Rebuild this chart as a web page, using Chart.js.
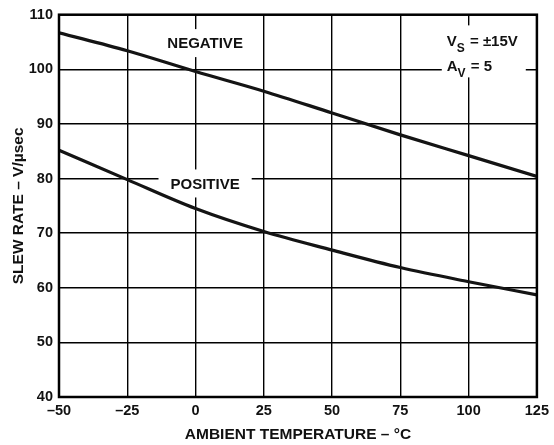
<!DOCTYPE html>
<html>
<head>
<meta charset="utf-8">
<script src="https://cdn.jsdelivr.net/npm/chart.js@4/dist/chart.umd.min.js"></script>
<style>
  html, body { margin: 0; padding: 0; background: #fff; }
  #wrap { width: 554px; height: 445px; position: relative; }
</style>
</head>
<body>
<div id="wrap"><canvas id="c" width="554" height="445"></canvas></div>
<script>
// ---- data ----
const temperatures = [-50, -25, 0, 25, 50, 75, 100, 125];
const negativeSlew = [106.7, 103.4, 99.6, 96.0, 92.0, 88.0, 84.2, 80.4];
const positiveSlew = [85.2, 79.8, 74.5, 70.3, 66.9, 63.7, 61.1, 58.7];
const xTickLabels = ['\u201350', '\u201325', '0', '25', '50', '75', '100', '125'];
const yTickLabels = ['40', '50', '60', '70', '80', '90', '100', '110'];
const curveLabels = ['NEGATIVE', 'POSITIVE'];
const curveLabelAt = [[3.5, 104.8], [3.5, 79.1]];
const conditionsAt = [92.0, 104.2];

const FONT = '"Liberation Sans", Arial, Helvetica, sans-serif';

const annotations = {
  id: 'annotations',
  beforeDatasetsDraw(chart) {
    const ctx = chart.ctx;
    const xs = chart.scales.x, ys = chart.scales.y;
    ctx.save();
    ctx.font = 'bold 15px ' + FONT;
    ctx.textAlign = 'center';
    ctx.textBaseline = 'middle';
    curveLabels.forEach((t, i) => {
      const px = xs.getPixelForValue(curveLabelAt[i][0]);
      const py = ys.getPixelForValue(curveLabelAt[i][1]);
      const w = ctx.measureText(t).width;
      ctx.fillStyle = '#fff';
      ctx.fillRect(px - w / 2 - 12, py - 14, w + 24, 28);
      ctx.fillStyle = '#111';
      ctx.fillText(t, px, py + 1);
    });
    // conditions block
    const cx = xs.getPixelForValue(conditionsAt[0]);
    const cy = ys.getPixelForValue(conditionsAt[1]);
    ctx.fillStyle = '#fff';
    ctx.fillRect(cx - 5, cy - 21, 84, 52);
    ctx.fillStyle = '#111';
    ctx.textAlign = 'left';
    ctx.textBaseline = 'alphabetic';
    const drawSub = (main, sub, rest, x, y) => {
      ctx.font = 'bold 15px ' + FONT;
      ctx.fillText(main, x, y);
      let w = ctx.measureText(main).width;
      ctx.font = 'bold 12px ' + FONT;
      ctx.fillText(sub, x + w, y + 6);
      w += ctx.measureText(sub).width + 1;
      ctx.font = 'bold 15px ' + FONT;
      ctx.fillText(rest, x + w, y);
    };
    drawSub('V', 'S', ' = \u00b115V', cx, cy);
    drawSub('A', 'V', ' = 5', cx, cy + 25);
    ctx.restore();
  },
  afterDraw(chart) {
    const ctx = chart.ctx;
    const a = chart.chartArea;
    ctx.save();
    ctx.strokeStyle = '#000';
    ctx.lineWidth = 2.5;
    ctx.strokeRect(a.left, a.top, a.right - a.left, a.bottom - a.top);
    ctx.restore();
  }
};

new Chart(document.getElementById('c'), {
  type: 'line',
  data: {
    datasets: [
      {
        label: 'NEGATIVE',
        data: temperatures.map((t, i) => ({ x: t, y: negativeSlew[i] })),
        borderColor: '#141414', borderWidth: 3.2, pointRadius: 0,
        cubicInterpolationMode: 'monotone', fill: false
      },
      {
        label: 'POSITIVE',
        data: temperatures.map((t, i) => ({ x: t, y: positiveSlew[i] })),
        borderColor: '#141414', borderWidth: 3.2, pointRadius: 0,
        cubicInterpolationMode: 'monotone', fill: false
      }
    ]
  },
  options: {
    responsive: false,
    animation: false,
    devicePixelRatio: 1,
    layout: { padding: { left: 0, right: 16, top: 13, bottom: 0 } },
    plugins: { legend: { display: false }, tooltip: { enabled: false } },
    scales: {
      x: {
        type: 'linear', min: -50, max: 125,
        afterFit: s => { s.height = 48; },
        grid: { color: '#000', lineWidth: 1.4, drawTicks: false },
        border: { display: false },
        ticks: {
          stepSize: 25, padding: 5, color: '#111',
          font: { family: FONT, size: 14.5, weight: 'bold' },
          callback: (v) => xTickLabels[temperatures.indexOf(v)]
        },
        title: {
          display: true, text: 'AMBIENT TEMPERATURE \u2013 \u00b0C', color: '#111',
          font: { family: FONT, size: 15.5, weight: 'bold' },
          padding: { top: 0, bottom: 1 }
        }
      },
      y: {
        type: 'linear', min: 40, max: 110,
        afterFit: s => { s.width = 59; },
        grid: { color: '#000', lineWidth: 1.4, drawTicks: false },
        border: { display: false },
        ticks: {
          stepSize: 10, padding: 6, color: '#111',
          font: { family: FONT, size: 14.5, weight: 'bold' },
          callback: (v) => yTickLabels[(v - 40) / 10]
        },
        title: {
          display: true, text: 'SLEW RATE \u2013 V/\u00b5sec', color: '#111',
          font: { family: FONT, size: 15.5, weight: 'bold' },
          padding: { top: 9, bottom: 0 }
        }
      }
    }
  },
  plugins: [annotations]
});
</script>
</body>
</html>
